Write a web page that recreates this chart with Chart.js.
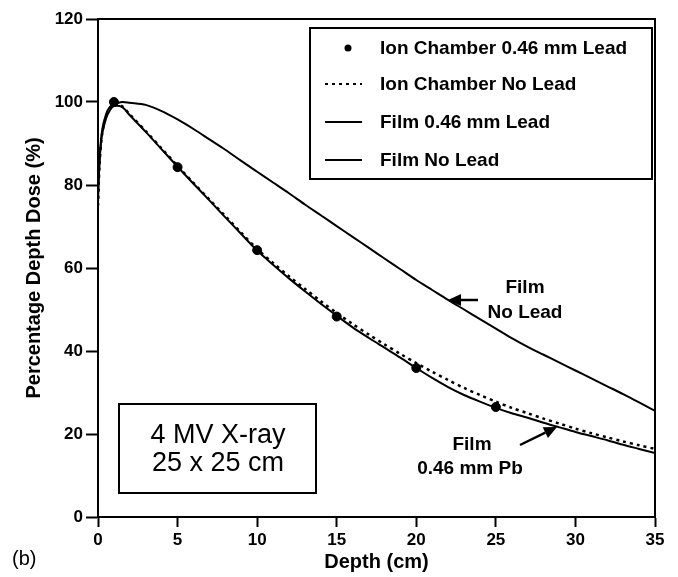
<!DOCTYPE html>
<html>
<head>
<meta charset="utf-8">
<script src="https://cdn.jsdelivr.net/npm/chart.js@4/dist/chart.umd.min.js"></script>
<style>
  html, body { margin: 0; padding: 0; background: #fff; }
  #wrap { width: 678px; height: 577px; position: relative; }
</style>
</head>
<body>
<div id="wrap"><canvas id="c" width="678" height="577"></canvas></div>
<script>
// ---- Data ----
const filmDepths = [0, 0.1, 0.25, 0.5, 0.75, 1, 1.5, 2, 3, 4, 5, 6, 7, 8, 9, 10, 11, 12, 13, 14, 15, 16, 17, 18, 19, 20, 21, 22, 23, 24, 25, 26, 27, 28, 29, 30, 31, 32, 33, 34, 35];
const filmNoLead = [76, 86, 93, 97, 98.8, 99.4, 100, 99.8, 99.3, 97.8, 95.8, 93.5, 91, 88.5, 85.8, 83.2, 80.6, 78, 75.3, 72.7, 70.1, 67.5, 64.9, 62.3, 59.7, 57.1, 54.7, 52.3, 50.0, 47.7, 45.4, 43.1, 41.0, 39.1, 37.2, 35.3, 33.4, 31.5, 29.6, 27.6, 25.6];
const filmLead = [78, 86, 92, 96, 98, 99, 98.8, 96.8, 92.8, 88.6, 84.4, 80.3, 76.3, 72.2, 68.2, 64.2, 60.8, 57.5, 54.4, 51.4, 48.5, 45.7, 43.2, 40.8, 38.4, 35.9, 33.5, 31.3, 29.4, 27.8, 26.3, 25.0, 23.9, 22.7, 21.6, 20.5, 19.5, 18.5, 17.4, 16.4, 15.4];
const ionNoLead = [75, 85, 92, 96.5, 98.5, 99.5, 99, 97, 93, 88.8, 84.6, 80.5, 76.5, 72.5, 68.5, 64.6, 61.2, 58, 55, 52, 49.2, 46.5, 44, 41.6, 39.3, 37.1, 35, 33, 31.1, 29.4, 27.8, 26.3, 25, 23.7, 22.5, 21.3, 20.2, 19.2, 18.2, 17.3, 16.4];
const ionLeadDepths = [1, 5, 10, 15, 20, 25];
const ionLead = [100, 84.3, 64.3, 48.3, 35.9, 26.5];

const seriesLabels = ["Ion Chamber 0.46 mm Lead", "Ion Chamber No Lead", "Film 0.46 mm Lead", "Film No Lead"];
const xTicks = [0, 5, 10, 15, 20, 25, 30, 35];
const yTicks = [0, 20, 40, 60, 80, 100, 120];
const xTitle = "Depth (cm)";
const yTitle = "Percentage Depth Dose (%)";
const boxLines = ["4 MV X-ray", "25 x 25 cm"];
const panelLabel = "(b)";

const FF = '"Liberation Sans", Arial, Helvetica, sans-serif';
const toXY = (xs, ys) => xs.map((x, i) => ({ x: x, y: ys[i] }));

// ---- plugins for frame, legend, annotations ----
const decor = {
  id: 'decor',
  afterDraw(chart) {
    const ctx = chart.ctx;
    const a = chart.chartArea;
    ctx.save();
    // plot frame
    ctx.strokeStyle = '#000';
    ctx.lineWidth = 2;
    ctx.strokeRect(a.left, a.top, a.right - a.left, a.bottom - a.top);

    // legend box
    const lx0 = 310, ly0 = 28, lx1 = 652, ly1 = 179;
    ctx.fillStyle = '#fff';
    ctx.fillRect(lx0, ly0, lx1 - lx0, ly1 - ly0);
    ctx.strokeRect(lx0, ly0, lx1 - lx0, ly1 - ly0);
    const rows = [48, 84, 122, 160];
    ctx.font = 'bold 19px ' + FF;
    ctx.textBaseline = 'middle';
    ctx.textAlign = 'left';
    ctx.fillStyle = '#000';
    rows.forEach((ry, i) => {
      if (i === 0) {
        ctx.beginPath(); ctx.arc(348, ry, 3.5, 0, Math.PI * 2); ctx.fill();
      } else {
        ctx.beginPath();
        ctx.setLineDash(i === 1 ? [3, 4] : []);
        ctx.lineWidth = 2;
        ctx.moveTo(325, ry); ctx.lineTo(362, ry); ctx.stroke();
        ctx.setLineDash([]);
      }
      ctx.fillText(seriesLabels[i], 380, ry + 1);
    });

    // 4 MV box
    ctx.lineWidth = 2;
    ctx.fillStyle = '#fff';
    ctx.fillRect(119, 404, 197, 89);
    ctx.strokeRect(119, 404, 197, 89);
    ctx.fillStyle = '#000';
    ctx.font = '27px ' + FF;
    ctx.textAlign = 'center';
    ctx.fillText(boxLines[0], 218, 436);
    ctx.fillText(boxLines[1], 218, 464);

    // annotations
    ctx.font = 'bold 19px ' + FF;
    ctx.fillText('Film', 525, 288);
    ctx.fillText('No Lead', 525, 313);
    ctx.fillText('Film', 472, 445);
    ctx.fillText('0.46 mm Pb', 470, 469);

    function arrow(x0, y0, x1, y1) {
      const ang = Math.atan2(y1 - y0, x1 - x0);
      const hl = 13, hw = 6;
      const bx = x1 - hl * Math.cos(ang), by = y1 - hl * Math.sin(ang);
      ctx.lineWidth = 2.5;
      ctx.beginPath(); ctx.moveTo(x0, y0); ctx.lineTo(bx, by); ctx.stroke();
      ctx.beginPath();
      ctx.moveTo(x1, y1);
      ctx.lineTo(bx + hw * Math.sin(ang), by - hw * Math.cos(ang));
      ctx.lineTo(bx - hw * Math.sin(ang), by + hw * Math.cos(ang));
      ctx.closePath(); ctx.fill();
    }
    arrow(478, 300, 448, 300);
    arrow(520, 445, 557, 427);

    // panel label
    ctx.font = '20px ' + FF;
    ctx.textAlign = 'left';
    ctx.fillText(panelLabel, 12, 559);
    ctx.restore();
  }
};

new Chart(document.getElementById('c'), {
  type: 'line',
  data: {
    datasets: [
      { label: seriesLabels[0], data: toXY(ionLeadDepths, ionLead), showLine: false, pointRadius: 4.5, pointBackgroundColor: '#000', pointBorderColor: '#000', borderColor: '#000' },
      { label: seriesLabels[1], data: toXY(filmDepths, ionNoLead), borderColor: '#000', borderWidth: 2.5, borderDash: [3, 4], pointRadius: 0, tension: 0.3, fill: false },
      { label: seriesLabels[2], data: toXY(filmDepths, filmLead), borderColor: '#000', borderWidth: 2, pointRadius: 0, tension: 0.3, fill: false },
      { label: seriesLabels[3], data: toXY(filmDepths, filmNoLead), borderColor: '#000', borderWidth: 2, pointRadius: 0, tension: 0.3, fill: false }
    ]
  },
  options: {
    responsive: false,
    animation: false,
    events: [],
    layout: { padding: { left: 0, right: 23, top: 19, bottom: 0 } },
    plugins: { legend: { display: false }, tooltip: { enabled: false } },
    scales: {
      x: {
        type: 'linear', min: 0, max: 35,
        afterBuildTicks: s => { s.ticks = xTicks.map(v => ({ value: v })); },
        afterFit: s => { s.height = 60; },
        grid: { drawOnChartArea: false, drawTicks: true, tickLength: 10, tickColor: '#000', tickWidth: 2 },
        border: { display: true, color: '#000', width: 2 },
        ticks: { color: '#000', font: { family: FF, size: 17, weight: 'bold' }, padding: 3, maxRotation: 0 },
        title: { display: true, text: xTitle, color: '#000', font: { family: FF, size: 20, weight: 'bold' }, padding: { top: 0, bottom: 3 } }
      },
      y: {
        type: 'linear', min: 0, max: 120,
        afterBuildTicks: s => { s.ticks = yTicks.map(v => ({ value: v })); },
        afterFit: s => { s.width = 98; },
        grid: { drawOnChartArea: false, drawTicks: true, tickLength: 12, tickColor: '#000', tickWidth: 2 },
        border: { display: true, color: '#000', width: 2 },
        ticks: { color: '#000', font: { family: FF, size: 17, weight: 'bold' }, padding: 3 },
        title: { display: true, text: yTitle, color: '#000', font: { family: FF, size: 20, weight: 'bold' }, padding: { top: 22, bottom: 0 } }
      }
    }
  },
  plugins: [decor]
});
</script>
</body>
</html>
